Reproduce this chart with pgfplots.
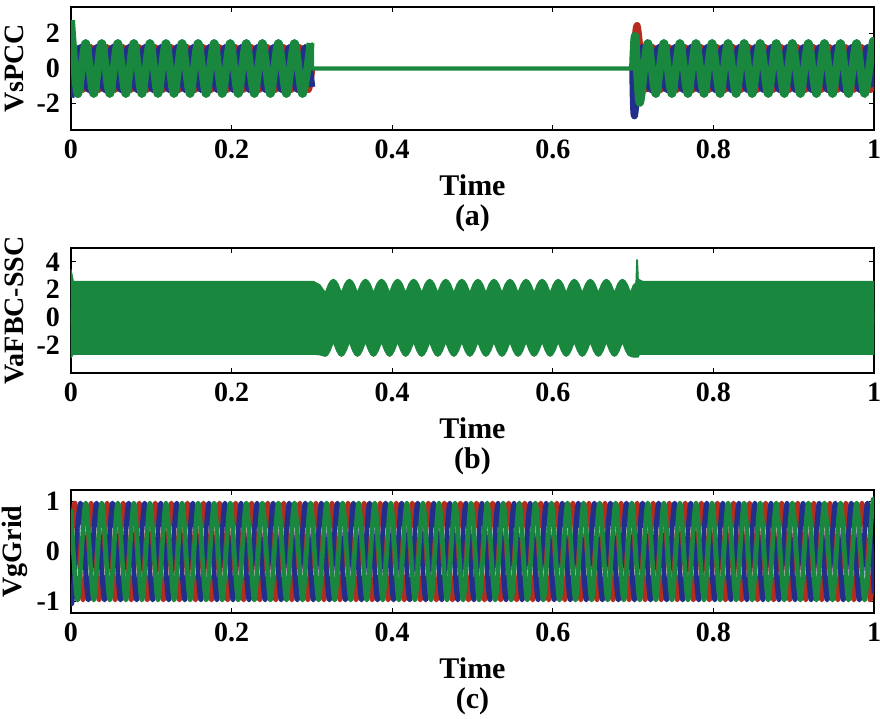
\documentclass[border=0pt]{standalone}
\usepackage{fontspec}
\setmainfont{Liberation Serif}
\usepackage{pgfplots}
\pgfplotsset{compat=1.18}
\definecolor{gr}{RGB}{26,135,62}
\definecolor{bl}{RGB}{34,46,140}
\definecolor{rd}{RGB}{180,45,30}
\pgfplotsset{
 myax/.style={
  scale only axis, width=401.5pt,
  xmin=0, xmax=1,
  xtick={0,0.2,0.4,0.6,0.8,1},
  xticklabels={0,0.2,0.4,0.6,0.8,1},
  tick align=inside, major tick length=2.5pt,
  axis line style={line width=0.6pt},
  every tick/.style={black, line width=0.6pt},
  tick label style={font=\bfseries\fontsize{14}{14}\selectfont},
  /pgf/number format/assume math mode=true,
  xticklabel style={yshift=-1.5pt},
  yticklabel style={xshift=-2pt},
  xlabel style={font=\bfseries\fontsize{15}{15}\selectfont, align=center, at={(axis description cs:0.5,0)}, anchor=north, inner sep=0pt, yshift=-22pt},
  ylabel style={font=\bfseries\fontsize{14}{15}\selectfont, at={(axis description cs:-0.07,0.5)}, anchor=center},
  every axis plot/.append style={line join=round},
 }
}
\begin{document}
\begin{tikzpicture}
\useasboundingbox (0,0) rectangle (440pt,359.5pt);
% ---------------- (a)
\begin{axis}[myax, at={(35.5pt,294.5pt)}, anchor=south west, height=61.5pt,
  ymin=-3.5, ymax=3.5, ytick={-2,0,2}, ylabel={VsPCC}, xlabel={Time\\(a)}]
\addplot[rd, line width=3.4pt, smooth] coordinates {
(0,0) (0.005,1.2) (0.015,-1.2) (0.025,1.2) (0.035,-1.2) (0.045,1.2) (0.055,-1.2) (0.065,1.2) (0.075,-1.2) (0.085,1.2) (0.095,-1.2)
(0.105,1.2) (0.115,-1.2) (0.125,1.2) (0.135,-1.2) (0.145,1.2) (0.155,-1.2) (0.165,1.2) (0.175,-1.2) (0.185,1.2) (0.195,-1.2)
(0.205,1.2) (0.215,-1.2) (0.225,1.2) (0.235,-1.2) (0.245,1.2) (0.255,-1.2) (0.265,1.2) (0.275,-1.2) (0.285,1.2) (0.295,-1.2) (0.3,0)};
\addplot[rd, line width=3.4pt, smooth] coordinates {
(0.7,0) (0.705,2.45) (0.715,-1.2) (0.725,1.2) (0.735,-1.2) (0.745,1.2) (0.755,-1.2) (0.765,1.2) (0.775,-1.2) (0.785,1.2) (0.795,-1.2)
(0.805,1.2) (0.815,-1.2) (0.825,1.2) (0.835,-1.2) (0.845,1.2) (0.855,-1.2) (0.865,1.2) (0.875,-1.2) (0.885,1.2) (0.895,-1.2)
(0.905,1.2) (0.915,-1.2) (0.925,1.2) (0.935,-1.2) (0.945,1.2) (0.955,-1.2) (0.965,1.2) (0.975,-1.2) (0.985,1.2) (0.995,-1.2) (1,0)};
\addplot[bl, line width=3.4pt, smooth] coordinates {
(0,-1.65) (0.0017,-1.2) (0.0117,1.2) (0.0217,-1.2) (0.0317,1.2) (0.0417,-1.2) (0.0517,1.2) (0.0617,-1.2) (0.0717,1.2) (0.0817,-1.2) (0.0917,1.2)
(0.1017,-1.2) (0.1117,1.2) (0.1217,-1.2) (0.1317,1.2) (0.1417,-1.2) (0.1517,1.2) (0.1617,-1.2) (0.1717,1.2) (0.1817,-1.2) (0.1917,1.2)
(0.2017,-1.2) (0.2117,1.2) (0.2217,-1.2) (0.2317,1.2) (0.2417,-1.2) (0.2517,1.2) (0.2617,-1.2) (0.2717,1.2) (0.2817,-1.2) (0.2917,1.2) (0.3,-1.05)};
\addplot[bl, line width=3.4pt, smooth] coordinates {
(0.6995,0) (0.7017,-2.7) (0.7117,1.2) (0.7217,-1.2) (0.7317,1.2) (0.7417,-1.2) (0.7517,1.2) (0.7617,-1.2) (0.7717,1.2) (0.7817,-1.2) (0.7917,1.2)
(0.8017,-1.2) (0.8117,1.2) (0.8217,-1.2) (0.8317,1.2) (0.8417,-1.2) (0.8517,1.2) (0.8617,-1.2) (0.8717,1.2) (0.8817,-1.2) (0.8917,1.2)
(0.9017,-1.2) (0.9117,1.2) (0.9217,-1.2) (0.9317,1.2) (0.9417,-1.2) (0.9517,1.2) (0.9617,-1.2) (0.9717,1.2) (0.9817,-1.2) (0.9917,1.2) (1,-1.05)};
\addplot[gr, line width=4pt, smooth] coordinates {
(0,2.75) (0.0083,-1.45) (0.0183,1.45) (0.0283,-1.45) (0.0383,1.45) (0.0483,-1.45) (0.0583,1.45) (0.0683,-1.45) (0.0783,1.45) (0.0883,-1.45) (0.0983,1.45)
(0.1083,-1.45) (0.1183,1.45) (0.1283,-1.45) (0.1383,1.45) (0.1483,-1.45) (0.1583,1.45) (0.1683,-1.45) (0.1783,1.45) (0.1883,-1.45) (0.1983,1.45)
(0.2083,-1.45) (0.2183,1.45) (0.2283,-1.45) (0.2383,1.45) (0.2483,-1.45) (0.2583,1.45) (0.2683,-1.45) (0.2783,1.45) (0.2883,-1.45) (0.2983,1.45)};
\addplot[gr, line width=2.2pt] coordinates {(0.2983,1.45) (0.3,1.25) (0.3,0) (0.7,0)};
\addplot[gr, line width=4pt, smooth] coordinates {
(0.7,0) (0.7025,1.85) (0.7083,-1.95) (0.7183,1.45) (0.7283,-1.45) (0.7383,1.45) (0.7483,-1.45) (0.7583,1.45) (0.7683,-1.45) (0.7783,1.45) (0.7883,-1.45) (0.7983,1.45)
(0.8083,-1.45) (0.8183,1.45) (0.8283,-1.45) (0.8383,1.45) (0.8483,-1.45) (0.8583,1.45) (0.8683,-1.45) (0.8783,1.45) (0.8883,-1.45) (0.8983,1.45)
(0.9083,-1.45) (0.9183,1.45) (0.9283,-1.45) (0.9383,1.45) (0.9483,-1.45) (0.9583,1.45) (0.9683,-1.45) (0.9783,1.45) (0.9883,-1.45) (0.9983,1.45) (1,1.25)};
\end{axis}
% ---------------- (b)
\begin{axis}[myax, at={(35.5pt,173pt)}, anchor=south west, height=62.5pt,
  ymin=-4, ymax=5, ytick={-2,0,2,4}, ylabel={VaFBC-SSC}, xlabel={Time\\(b)}]
\addplot[gr, fill=gr, line width=0.5pt] coordinates {
(0,-0.5) (0,3.45) (0.003,2.6) (0.302,2.6) (0.31,2.35) (0.3167,1.8)
(0.3207,2.4) (0.3237,2.65) (0.3267,2.75) (0.3297,2.65) (0.3327,2.4) (0.3367,1.8)
(0.3407,2.4) (0.3437,2.65) (0.3467,2.75) (0.3497,2.65) (0.3527,2.4) (0.3567,1.8)
(0.3607,2.4) (0.3637,2.65) (0.3667,2.75) (0.3697,2.65) (0.3727,2.4) (0.3767,1.8)
(0.3807,2.4) (0.3837,2.65) (0.3867,2.75) (0.3897,2.65) (0.3927,2.4) (0.3967,1.8)
(0.4007,2.4) (0.4037,2.65) (0.4067,2.75) (0.4097,2.65) (0.4127,2.4) (0.4167,1.8)
(0.4207,2.4) (0.4237,2.65) (0.4267,2.75) (0.4297,2.65) (0.4327,2.4) (0.4367,1.8)
(0.4407,2.4) (0.4437,2.65) (0.4467,2.75) (0.4497,2.65) (0.4527,2.4) (0.4567,1.8)
(0.4607,2.4) (0.4637,2.65) (0.4667,2.75) (0.4697,2.65) (0.4727,2.4) (0.4767,1.8)
(0.4807,2.4) (0.4837,2.65) (0.4867,2.75) (0.4897,2.65) (0.4927,2.4) (0.4967,1.8)
(0.5007,2.4) (0.5037,2.65) (0.5067,2.75) (0.5097,2.65) (0.5127,2.4) (0.5167,1.8)
(0.5207,2.4) (0.5237,2.65) (0.5267,2.75) (0.5297,2.65) (0.5327,2.4) (0.5367,1.8)
(0.5407,2.4) (0.5437,2.65) (0.5467,2.75) (0.5497,2.65) (0.5527,2.4) (0.5567,1.8)
(0.5607,2.4) (0.5637,2.65) (0.5667,2.75) (0.5697,2.65) (0.5727,2.4) (0.5767,1.8)
(0.5807,2.4) (0.5837,2.65) (0.5867,2.75) (0.5897,2.65) (0.5927,2.4) (0.5967,1.8)
(0.6007,2.4) (0.6037,2.65) (0.6067,2.75) (0.6097,2.65) (0.6127,2.4) (0.6167,1.8)
(0.6207,2.4) (0.6237,2.65) (0.6267,2.75) (0.6297,2.65) (0.6327,2.4) (0.6367,1.8)
(0.6407,2.4) (0.6437,2.65) (0.6467,2.75) (0.6497,2.65) (0.6527,2.4) (0.6567,1.8)
(0.6607,2.4) (0.6637,2.65) (0.6667,2.75) (0.6697,2.65) (0.6727,2.4) (0.6767,1.8)
(0.6807,2.4) (0.6837,2.65) (0.6867,2.75) (0.6897,2.65) (0.6927,2.4) (0.6967,1.8)
(0.7,2.3) (0.7035,2.5) (0.7045,4.15) (0.7055,4.15) (0.7065,2.75) (0.712,2.6) (1,2.6) (1,-0.5)};
\addplot[gr, fill=gr, line width=0.5pt] coordinates {
(0,0.5) (0,-2.9) (0.003,-2.65) (0.302,-2.65) (0.31,-2.7) (0.3167,-2.8)
(0.3197,-2.7) (0.3227,-2.4) (0.3267,-1.8) (0.3307,-2.4) (0.3337,-2.7) (0.3367,-2.8)
(0.3397,-2.7) (0.3427,-2.4) (0.3467,-1.8) (0.3507,-2.4) (0.3537,-2.7) (0.3567,-2.8)
(0.3597,-2.7) (0.3627,-2.4) (0.3667,-1.8) (0.3707,-2.4) (0.3737,-2.7) (0.3767,-2.8)
(0.3797,-2.7) (0.3827,-2.4) (0.3867,-1.8) (0.3907,-2.4) (0.3937,-2.7) (0.3967,-2.8)
(0.3997,-2.7) (0.4027,-2.4) (0.4067,-1.8) (0.4107,-2.4) (0.4137,-2.7) (0.4167,-2.8)
(0.4197,-2.7) (0.4227,-2.4) (0.4267,-1.8) (0.4307,-2.4) (0.4337,-2.7) (0.4367,-2.8)
(0.4397,-2.7) (0.4427,-2.4) (0.4467,-1.8) (0.4507,-2.4) (0.4537,-2.7) (0.4567,-2.8)
(0.4597,-2.7) (0.4627,-2.4) (0.4667,-1.8) (0.4707,-2.4) (0.4737,-2.7) (0.4767,-2.8)
(0.4797,-2.7) (0.4827,-2.4) (0.4867,-1.8) (0.4907,-2.4) (0.4937,-2.7) (0.4967,-2.8)
(0.4997,-2.7) (0.5027,-2.4) (0.5067,-1.8) (0.5107,-2.4) (0.5137,-2.7) (0.5167,-2.8)
(0.5197,-2.7) (0.5227,-2.4) (0.5267,-1.8) (0.5307,-2.4) (0.5337,-2.7) (0.5367,-2.8)
(0.5397,-2.7) (0.5427,-2.4) (0.5467,-1.8) (0.5507,-2.4) (0.5537,-2.7) (0.5567,-2.8)
(0.5597,-2.7) (0.5627,-2.4) (0.5667,-1.8) (0.5707,-2.4) (0.5737,-2.7) (0.5767,-2.8)
(0.5797,-2.7) (0.5827,-2.4) (0.5867,-1.8) (0.5907,-2.4) (0.5937,-2.7) (0.5967,-2.8)
(0.5997,-2.7) (0.6027,-2.4) (0.6067,-1.8) (0.6107,-2.4) (0.6137,-2.7) (0.6167,-2.8)
(0.6197,-2.7) (0.6227,-2.4) (0.6267,-1.8) (0.6307,-2.4) (0.6337,-2.7) (0.6367,-2.8)
(0.6397,-2.7) (0.6427,-2.4) (0.6467,-1.8) (0.6507,-2.4) (0.6537,-2.7) (0.6567,-2.8)
(0.6597,-2.7) (0.6627,-2.4) (0.6667,-1.8) (0.6707,-2.4) (0.6737,-2.7) (0.6767,-2.8)
(0.6797,-2.7) (0.6827,-2.4) (0.6867,-1.8) (0.6907,-2.4) (0.6937,-2.7) (0.6967,-2.8)
(0.7,-2.85) (0.7065,-2.85) (0.708,-2.65) (1,-2.65) (1,0.5)};
\end{axis}
% ---------------- (c)
\begin{axis}[myax, at={(35.5pt,53pt)}, anchor=south west, height=61.5pt,
  ymin=-1.23, ymax=1.23, ytick={-1,0,1}, ylabel={VgGrid}, xlabel={Time\\(c)}]
\addplot[rd, line width=2.3pt, smooth] coordinates {
(0,0)
(0.005,0.97)(0.015,-0.97)(0.025,0.97)(0.035,-0.97)(0.045,0.97)(0.055,-0.97)(0.065,0.97)(0.075,-0.97)(0.085,0.97)(0.095,-0.97)
(0.105,0.97)(0.115,-0.97)(0.125,0.97)(0.135,-0.97)(0.145,0.97)(0.155,-0.97)(0.165,0.97)(0.175,-0.97)(0.185,0.97)(0.195,-0.97)
(0.205,0.97)(0.215,-0.97)(0.225,0.97)(0.235,-0.97)(0.245,0.97)(0.255,-0.97)(0.265,0.97)(0.275,-0.97)(0.285,0.97)(0.295,-0.97)
(0.305,0.97)(0.315,-0.97)(0.325,0.97)(0.335,-0.97)(0.345,0.97)(0.355,-0.97)(0.365,0.97)(0.375,-0.97)(0.385,0.97)(0.395,-0.97)
(0.405,0.97)(0.415,-0.97)(0.425,0.97)(0.435,-0.97)(0.445,0.97)(0.455,-0.97)(0.465,0.97)(0.475,-0.97)(0.485,0.97)(0.495,-0.97)
(0.505,0.97)(0.515,-0.97)(0.525,0.97)(0.535,-0.97)(0.545,0.97)(0.555,-0.97)(0.565,0.97)(0.575,-0.97)(0.585,0.97)(0.595,-0.97)
(0.605,0.97)(0.615,-0.97)(0.625,0.97)(0.635,-0.97)(0.645,0.97)(0.655,-0.97)(0.665,0.97)(0.675,-0.97)(0.685,0.97)(0.695,-0.97)
(0.705,0.97)(0.715,-0.97)(0.725,0.97)(0.735,-0.97)(0.745,0.97)(0.755,-0.97)(0.765,0.97)(0.775,-0.97)(0.785,0.97)(0.795,-0.97)
(0.805,0.97)(0.815,-0.97)(0.825,0.97)(0.835,-0.97)(0.845,0.97)(0.855,-0.97)(0.865,0.97)(0.875,-0.97)(0.885,0.97)(0.895,-0.97)
(0.905,0.97)(0.915,-0.97)(0.925,0.97)(0.935,-0.97)(0.945,0.97)(0.955,-0.97)(0.965,0.97)(0.975,-0.97)(0.985,0.97)(0.995,-0.97)
(1,0)};
\addplot[bl, line width=2.3pt, smooth] coordinates {
(0,-0.84)
(0.0017,-0.97)(0.0117,0.97)(0.0217,-0.97)(0.0317,0.97)(0.0417,-0.97)(0.0517,0.97)(0.0617,-0.97)(0.0717,0.97)(0.0817,-0.97)(0.0917,0.97)
(0.1017,-0.97)(0.1117,0.97)(0.1217,-0.97)(0.1317,0.97)(0.1417,-0.97)(0.1517,0.97)(0.1617,-0.97)(0.1717,0.97)(0.1817,-0.97)(0.1917,0.97)
(0.2017,-0.97)(0.2117,0.97)(0.2217,-0.97)(0.2317,0.97)(0.2417,-0.97)(0.2517,0.97)(0.2617,-0.97)(0.2717,0.97)(0.2817,-0.97)(0.2917,0.97)
(0.3017,-0.97)(0.3117,0.97)(0.3217,-0.97)(0.3317,0.97)(0.3417,-0.97)(0.3517,0.97)(0.3617,-0.97)(0.3717,0.97)(0.3817,-0.97)(0.3917,0.97)
(0.4017,-0.97)(0.4117,0.97)(0.4217,-0.97)(0.4317,0.97)(0.4417,-0.97)(0.4517,0.97)(0.4617,-0.97)(0.4717,0.97)(0.4817,-0.97)(0.4917,0.97)
(0.5017,-0.97)(0.5117,0.97)(0.5217,-0.97)(0.5317,0.97)(0.5417,-0.97)(0.5517,0.97)(0.5617,-0.97)(0.5717,0.97)(0.5817,-0.97)(0.5917,0.97)
(0.6017,-0.97)(0.6117,0.97)(0.6217,-0.97)(0.6317,0.97)(0.6417,-0.97)(0.6517,0.97)(0.6617,-0.97)(0.6717,0.97)(0.6817,-0.97)(0.6917,0.97)
(0.7017,-0.97)(0.7117,0.97)(0.7217,-0.97)(0.7317,0.97)(0.7417,-0.97)(0.7517,0.97)(0.7617,-0.97)(0.7717,0.97)(0.7817,-0.97)(0.7917,0.97)
(0.8017,-0.97)(0.8117,0.97)(0.8217,-0.97)(0.8317,0.97)(0.8417,-0.97)(0.8517,0.97)(0.8617,-0.97)(0.8717,0.97)(0.8817,-0.97)(0.8917,0.97)
(0.9017,-0.97)(0.9117,0.97)(0.9217,-0.97)(0.9317,0.97)(0.9417,-0.97)(0.9517,0.97)(0.9617,-0.97)(0.9717,0.97)(0.9817,-0.97)(0.9917,0.97)
(1,-0.84)};
\addplot[gr, line width=2.3pt, smooth] coordinates {
(0,0.84)
(0.0083,-0.97)(0.0183,0.97)(0.0283,-0.97)(0.0383,0.97)(0.0483,-0.97)(0.0583,0.97)(0.0683,-0.97)(0.0783,0.97)(0.0883,-0.97)(0.0983,0.97)
(0.1083,-0.97)(0.1183,0.97)(0.1283,-0.97)(0.1383,0.97)(0.1483,-0.97)(0.1583,0.97)(0.1683,-0.97)(0.1783,0.97)(0.1883,-0.97)(0.1983,0.97)
(0.2083,-0.97)(0.2183,0.97)(0.2283,-0.97)(0.2383,0.97)(0.2483,-0.97)(0.2583,0.97)(0.2683,-0.97)(0.2783,0.97)(0.2883,-0.97)(0.2983,0.97)
(0.3083,-0.97)(0.3183,0.97)(0.3283,-0.97)(0.3383,0.97)(0.3483,-0.97)(0.3583,0.97)(0.3683,-0.97)(0.3783,0.97)(0.3883,-0.97)(0.3983,0.97)
(0.4083,-0.97)(0.4183,0.97)(0.4283,-0.97)(0.4383,0.97)(0.4483,-0.97)(0.4583,0.97)(0.4683,-0.97)(0.4783,0.97)(0.4883,-0.97)(0.4983,0.97)
(0.5083,-0.97)(0.5183,0.97)(0.5283,-0.97)(0.5383,0.97)(0.5483,-0.97)(0.5583,0.97)(0.5683,-0.97)(0.5783,0.97)(0.5883,-0.97)(0.5983,0.97)
(0.6083,-0.97)(0.6183,0.97)(0.6283,-0.97)(0.6383,0.97)(0.6483,-0.97)(0.6583,0.97)(0.6683,-0.97)(0.6783,0.97)(0.6883,-0.97)(0.6983,0.97)
(0.7083,-0.97)(0.7183,0.97)(0.7283,-0.97)(0.7383,0.97)(0.7483,-0.97)(0.7583,0.97)(0.7683,-0.97)(0.7783,0.97)(0.7883,-0.97)(0.7983,0.97)
(0.8083,-0.97)(0.8183,0.97)(0.8283,-0.97)(0.8383,0.97)(0.8483,-0.97)(0.8583,0.97)(0.8683,-0.97)(0.8783,0.97)(0.8883,-0.97)(0.8983,0.97)
(0.9083,-0.97)(0.9183,0.97)(0.9283,-0.97)(0.9383,0.97)(0.9483,-0.97)(0.9583,0.97)(0.9683,-0.97)(0.9783,0.97)(0.9883,-0.97)(0.9983,0.97)
(1,0.84)};
\end{axis}
\end{tikzpicture}
\end{document}
